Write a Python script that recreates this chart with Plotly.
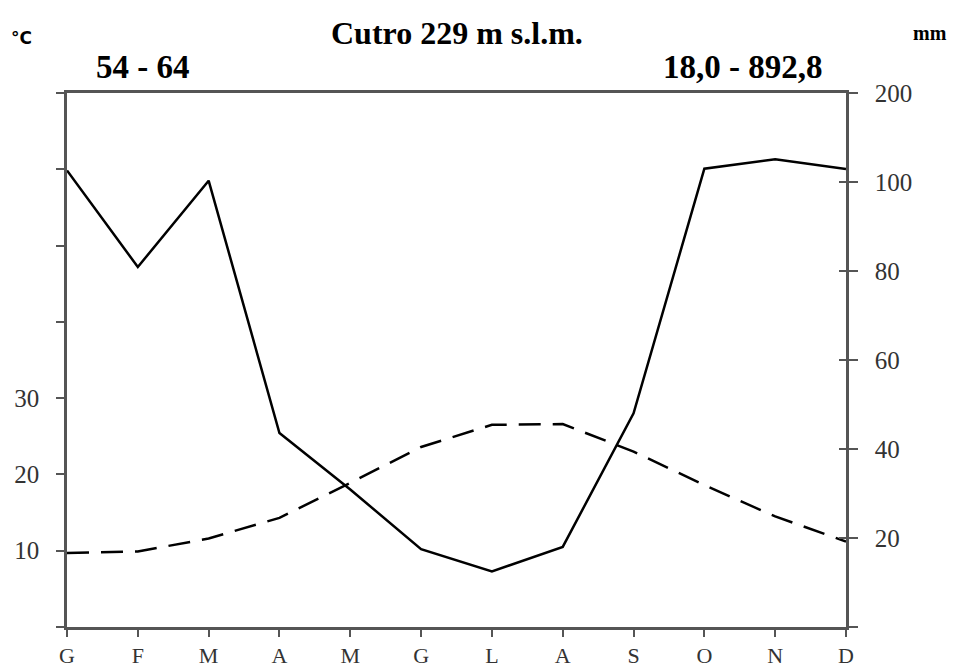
import plotly.graph_objects as go

months = ["G", "F", "M", "A", "M", "G", "L", "A", "S", "O", "N", "D"]
temperature_c = [9.7, 9.9, 11.6, 14.3, 18.9, 23.6, 26.5, 26.6, 23.0, 18.6, 14.5, 11.2]
precip_mm = [113.0, 80.9, 101.5, 43.6, 30.9, 17.5, 12.5, 18.0, 48.0, 115.0, 125.5, 114.5]

temp_ticks = [0, 10, 20, 30, 40, 50, 60, 70]
temp_ticklabels = ["", "10", "20", "30", "", "", "", ""]
precip_ticks_mm = [0, 20, 40, 60, 80, 100, 200]
precip_ticklabels = ["", "20", "40", "60", "80", "100", "200"]

title_text = "Cutro 229 m s.l.m."
left_header = "54 - 64"
right_header = "18,0 - 892,8"


def mm_scale(v):
    # Walter-Lieth style: above 100 mm the scale is compressed 1:5
    return v if v <= 100 else 100 + (v - 100) / 5.0


x = list(range(len(months)))
precip_plot = [mm_scale(v) for v in precip_mm]
precip_tickvals = [mm_scale(v) for v in precip_ticks_mm]

AX = "#555555"
TXT = "#333333"
SERIF = "Liberation Serif"
TICKSZ = 25

fig = go.Figure()
fig.add_trace(go.Scatter(
    x=x, y=temperature_c, mode="lines", yaxis="y",
    line=dict(color="black", width=2.5, dash="22px,12px"),
    showlegend=False, hoverinfo="skip",
))
fig.add_trace(go.Scatter(
    x=x, y=precip_plot, mode="lines", yaxis="y2",
    line=dict(color="black", width=2.5),
    showlegend=False, hoverinfo="skip",
))
fig.add_trace(go.Scatter(x=[None], y=[None], yaxis="y3", showlegend=False, hoverinfo="skip"))

fig.update_layout(
    template="none",
    width=957, height=669,
    margin=dict(l=67, r=111, t=93, b=42, autoexpand=False),
    paper_bgcolor="white", plot_bgcolor="white",
    font=dict(family=SERIF, size=TICKSZ, color=TXT),
    showlegend=False,
    xaxis=dict(
        range=[0, 11], tickvals=x, ticktext=months, automargin=False,
        showgrid=False, zeroline=False,
        showline=True, linecolor=AX, linewidth=2.5, mirror=True,
        ticks="outside", ticklen=7, tickwidth=1.5, tickcolor=AX,
        ticklabelstandoff=0,
        tickfont=dict(family=SERIF, size=22, color=TXT),
    ),
    yaxis=dict(
        range=[0, 70], tickvals=temp_ticks, ticktext=temp_ticklabels, automargin=False,
        showgrid=False, zeroline=False,
        showline=True, linecolor=AX, linewidth=2.5,
        ticks="outside", ticklen=8, tickwidth=1.5, tickcolor=AX,
        ticklabelstandoff=12,
        tickfont=dict(family=SERIF, size=TICKSZ, color=TXT),
    ),
    yaxis2=dict(
        range=[0, 120], tickvals=precip_tickvals, ticktext=precip_ticklabels,
        overlaying="y", side="right", automargin=False,
        showgrid=False, zeroline=False,
        showline=True, linecolor=AX, linewidth=2.5,
        ticks="outside", ticklen=9, tickwidth=1.5, tickcolor=AX,
        ticklabelstandoff=12,
        tickfont=dict(family=SERIF, size=TICKSZ, color=TXT),
    ),
    yaxis3=dict(
        range=[0, 120], tickvals=precip_tickvals,
        overlaying="y", side="right", automargin=False,
        showgrid=False, zeroline=False, showline=False,
        ticks="inside", ticklen=7, tickwidth=1.5, tickcolor=AX,
        showticklabels=False,
    ),
    annotations=[
        dict(text=title_text, x=0.5, y=1.112, xref="paper", yref="paper",
             showarrow=False, xanchor="center", yanchor="middle",
             font=dict(family=SERIF, size=32, color="black", weight="bold")),
        dict(text=left_header, x=0.0976, y=1.0487, xref="paper", yref="paper",
             showarrow=False, xanchor="center", yanchor="middle",
             font=dict(family=SERIF, size=33, color="black", weight="bold")),
        dict(text=right_header, x=0.8678, y=1.0487, xref="paper", yref="paper",
             showarrow=False, xanchor="center", yanchor="middle",
             font=dict(family=SERIF, size=33, color="black", weight="bold")),
        dict(text="°C", x=-0.0578, y=1.103, xref="paper", yref="paper",
             showarrow=False, xanchor="center", yanchor="middle",
             font=dict(family="DejaVu Sans", size=17, color="black", weight="bold")),
        dict(text="mm", x=1.1078, y=1.112, xref="paper", yref="paper",
             showarrow=False, xanchor="center", yanchor="middle",
             font=dict(family=SERIF, size=20, color="black", weight="bold")),
    ],
)

fig.write_html(
    "out.html",
    config={"displayModeBar": False},
    post_script="document.body.style.margin='0';document.body.style.padding='0';",
)
